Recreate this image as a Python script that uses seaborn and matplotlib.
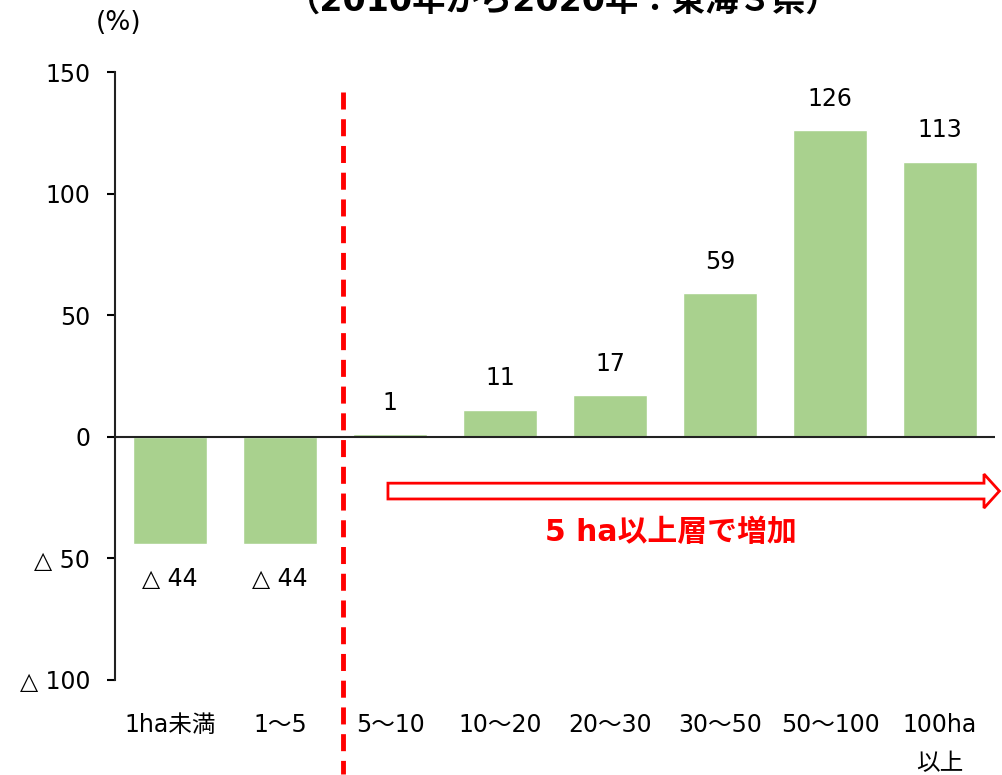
import numpy as np
import pandas as pd
import matplotlib
matplotlib.use('Agg')
import matplotlib.pyplot as plt
import seaborn as sns
from matplotlib.patches import FancyArrow

categories = ['1ha未満', '1～5', '5～10', '10～20', '20～30', '30～50', '50～100', '100ha\n以上']
values = [-44, -44, 1, 11, 17, 59, 126, 113]
value_labels = ['△ 44', '△ 44', '1', '11', '17', '59', '126', '113']
yticks = [150, 100, 50, 0, -50, -100]
ytick_labels = ['150', '100', '50', '0', '△ 50', '△ 100']
title = '（2010年から2020年：東海３県）'
note = '5 ha以上層で増加'

sns.set_style('white')
plt.rcParams['font.family'] = ['DejaVu Sans', 'Noto Sans CJK JP']
plt.rcParams['text.color'] = 'black'
plt.rcParams['xtick.color'] = 'black'
plt.rcParams['ytick.color'] = 'black'

df = pd.DataFrame({'cat': categories, 'val': values})

fig = plt.figure(figsize=(10.02, 7.75), dpi=100)
ax = fig.add_axes([0.115, 0.123, 0.878, 0.784])

sns.barplot(data=df, x='cat', y='val', color='#A9D18E', saturation=1, width=0.67, ax=ax)

ax.set_xlim(-0.5, 7.5)
ax.set_ylim(-100, 150)
ax.set_yticks(yticks)
ax.set_yticklabels(ytick_labels, fontsize=17)
ax.set_xlabel('')
ax.set_ylabel('')
ax.tick_params(axis='x', length=0, labelsize=17, pad=24)
ax.tick_params(axis='y', left=True, length=6, width=1.5, direction='out', pad=12)
for lbl in ax.get_xticklabels():
    lbl.set_va('top')
    lbl.set_linespacing(1.75)

for s in ['top', 'right', 'bottom']:
    ax.spines[s].set_visible(False)
ax.spines['left'].set_linewidth(1.5)
ax.spines['left'].set_color('#222222')
ax.axhline(0, color='#222222', lw=1.5, zorder=3)

for i, (v, t) in enumerate(zip(values, value_labels)):
    if v >= 0:
        ax.text(i, v + 13, t, ha='center', va='center', fontsize=17)
    else:
        ax.text(i, v - 14.5, t, ha='center', va='center', fontsize=17)

# dividing line
ax.plot([1.57, 1.57], [142, -139], color='#FF0000', lw=3.5, ls=(0, (3.5, 2)),
        clip_on=False, zorder=4)

# hollow arrow
arr = FancyArrow(1.98, -22.4, 5.56, 0, width=6.5, head_width=14, head_length=0.14,
                 length_includes_head=True, facecolor='white', edgecolor='#FF0000',
                 lw=2, clip_on=False, zorder=5)
ax.add_patch(arr)
ax.text(4.55, -39.5, note, ha='center', va='center', fontsize=21.5, fontweight='bold',
        color='#FF0000')

fig.text(0.118, 0.97, '(%)', ha='center', va='center', fontsize=19)
fig.text(0.562, 0.997, title, ha='center', va='center', fontsize=24, fontweight='bold')

fig.savefig('out.png', dpi=100)
